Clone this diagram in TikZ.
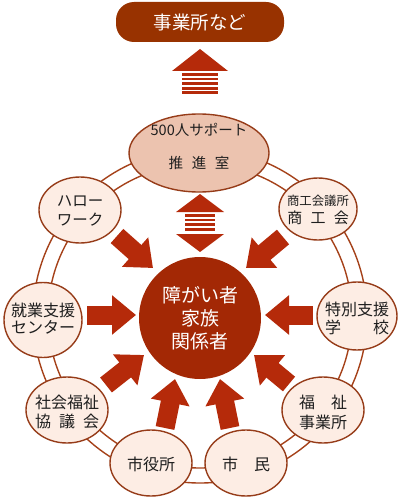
\documentclass[tikz,border=0pt]{standalone}
\usepackage{fontspec}
\setmainfont{Noto Sans CJK JP}
\usetikzlibrary{shapes.geometric,arrows.meta}
\definecolor{boxred}{RGB}{152,50,0}
\definecolor{arrred}{RGB}{181,42,10}
\definecolor{hubred}{RGB}{163,40,5}
\definecolor{ringc}{RGB}{165,65,25}
\definecolor{nodefill}{RGB}{253,237,228}
\definecolor{nodeline}{RGB}{150,60,25}
\definecolor{hqfill}{RGB}{236,195,175}
\definecolor{txt}{RGB}{30,30,30}
\begin{document}
\begin{tikzpicture}[x=1pt,y=-1pt,
 partner/.style={draw=nodeline, line width=1.4pt, fill=nodefill, ellipse, inner sep=0pt, minimum width=82pt, minimum height=66pt},
 ptext/.style={text=txt, font=\fontsize{15.5}{19}\selectfont, align=center, inner sep=0pt},
 blockarrow/.style={draw=arrred, line width=19pt, -{Triangle[width=38pt,length=24pt]}},
 ringline/.style={draw=ringc, line width=1.4pt},
]
\useasboundingbox (0,0) rectangle (400,500);
% ring
\coordinate (ringc) at (200,316);
\draw[ringline] (ringc) circle[radius=152pt];
\draw[ringline] (ringc) circle[radius=167pt];
% top box
\node[fill=boxred, rounded corners=18pt, minimum width=168pt, minimum height=40pt, inner sep=0pt,
      text=white, font=\fontsize{18.5}{20}\selectfont] (jigyo) at (200,22) {事業所など};
% top striped arrow
\fill[arrred] (172,71) -- (200,49) -- (228,71) -- cycle;
\foreach \k in {0,...,4} \fill[arrred] (182,{73+4.6*\k}) rectangle (218,{75.8+4.6*\k});
% double striped arrow
\fill[arrred] (176,212) -- (200,194) -- (224,212) -- cycle;
\foreach \k in {0,...,3} \fill[arrred] (185,{214+4.6*\k}) rectangle (215,{216.8+4.6*\k});
\fill[arrred] (176,234) -- (200,252) -- (224,234) -- cycle;
% HQ
\node[partner, fill=hqfill, minimum width=140pt, minimum height=78pt] (hq) at (199,153) {};
\node[ptext, font=\fontsize{14.5}{33}\selectfont] (hqt) at (199,146) {500人サポート\\推\hspace{0.6em}進\hspace{0.6em}室};
% hub
\node[circle, fill=hubred, minimum size=122pt, inner sep=0pt] (hub) at (200,318) {};
\node[ptext, text=white, font=\fontsize{19}{23}\selectfont] (hubt) at (200,318) {障がい者\\家族\\関係者};
% partners
\node[partner] (hello) at (80,210) {};
\node[ptext] (hellot) at (80,211) {ハロー\\ワーク};
\node[partner, minimum width=78pt, minimum height=62pt] (shoko) at (318,209) {};
\node[ptext, font=\fontsize{15}{18}\selectfont] (shokot) at (318,210) {{\fontsize{12.4}{15}\selectfont 商工会議所}\\商\hspace{0.55em}工\hspace{0.55em}会};
\node[partner, minimum width=78pt, minimum height=75pt] (shugyo) at (43,320) {};
\node[ptext, font=\fontsize{16}{17}\selectfont] (shugyot) at (43,319) {就業支援\\センター};
\node[partner, minimum width=80pt, minimum height=68pt] (toku) at (357,316) {};
\node[ptext, font=\fontsize{16}{18}\selectfont] (tokut) at (357,318) {特別支援\\学\hspace{2em}校};
\node[partner] (shakai) at (67,410) {};
\node[ptext, font=\fontsize{16}{19}\selectfont] (shakait) at (67,412) {社会福祉\\協\hspace{0.5em}議\hspace{0.5em}会};
\node[partner] (shiyaku) at (151,463) {};
\node[ptext, font=\fontsize{16}{19}\selectfont] (shiyakut) at (151,464) {市役所};
\node[partner] (shimin) at (246,463) {};
\node[ptext, font=\fontsize{16}{19}\selectfont] (shimint) at (246,464) {市\hspace{1em}民};
\node[partner] (fukushi) at (323,410) {};
\node[ptext, font=\fontsize{16}{20}\selectfont] (fukushit) at (323,412) {福\hspace{1em}祉\\事業所};
% block arrows
\coordinate (a1s) at (117,236); \coordinate (a1e) at (153,268);
\coordinate (a2s) at (283,237); \coordinate (a2e) at (246,268);
\coordinate (a3s) at (87,315);  \coordinate (a3e) at (136,315);
\coordinate (a4s) at (313,315); \coordinate (a4e) at (265,315);
\coordinate (a5s) at (106,385); \coordinate (a5e) at (144,355);
\coordinate (a6s) at (289,384); \coordinate (a6e) at (254,355);
\coordinate (a7s) at (165,428); \coordinate (a7e) at (175,379);
\coordinate (a8s) at (230,428); \coordinate (a8e) at (220,379);
\foreach \i in {1,...,8} \draw[blockarrow] (a\i s) -- (a\i e);
\end{tikzpicture}
\end{document}
